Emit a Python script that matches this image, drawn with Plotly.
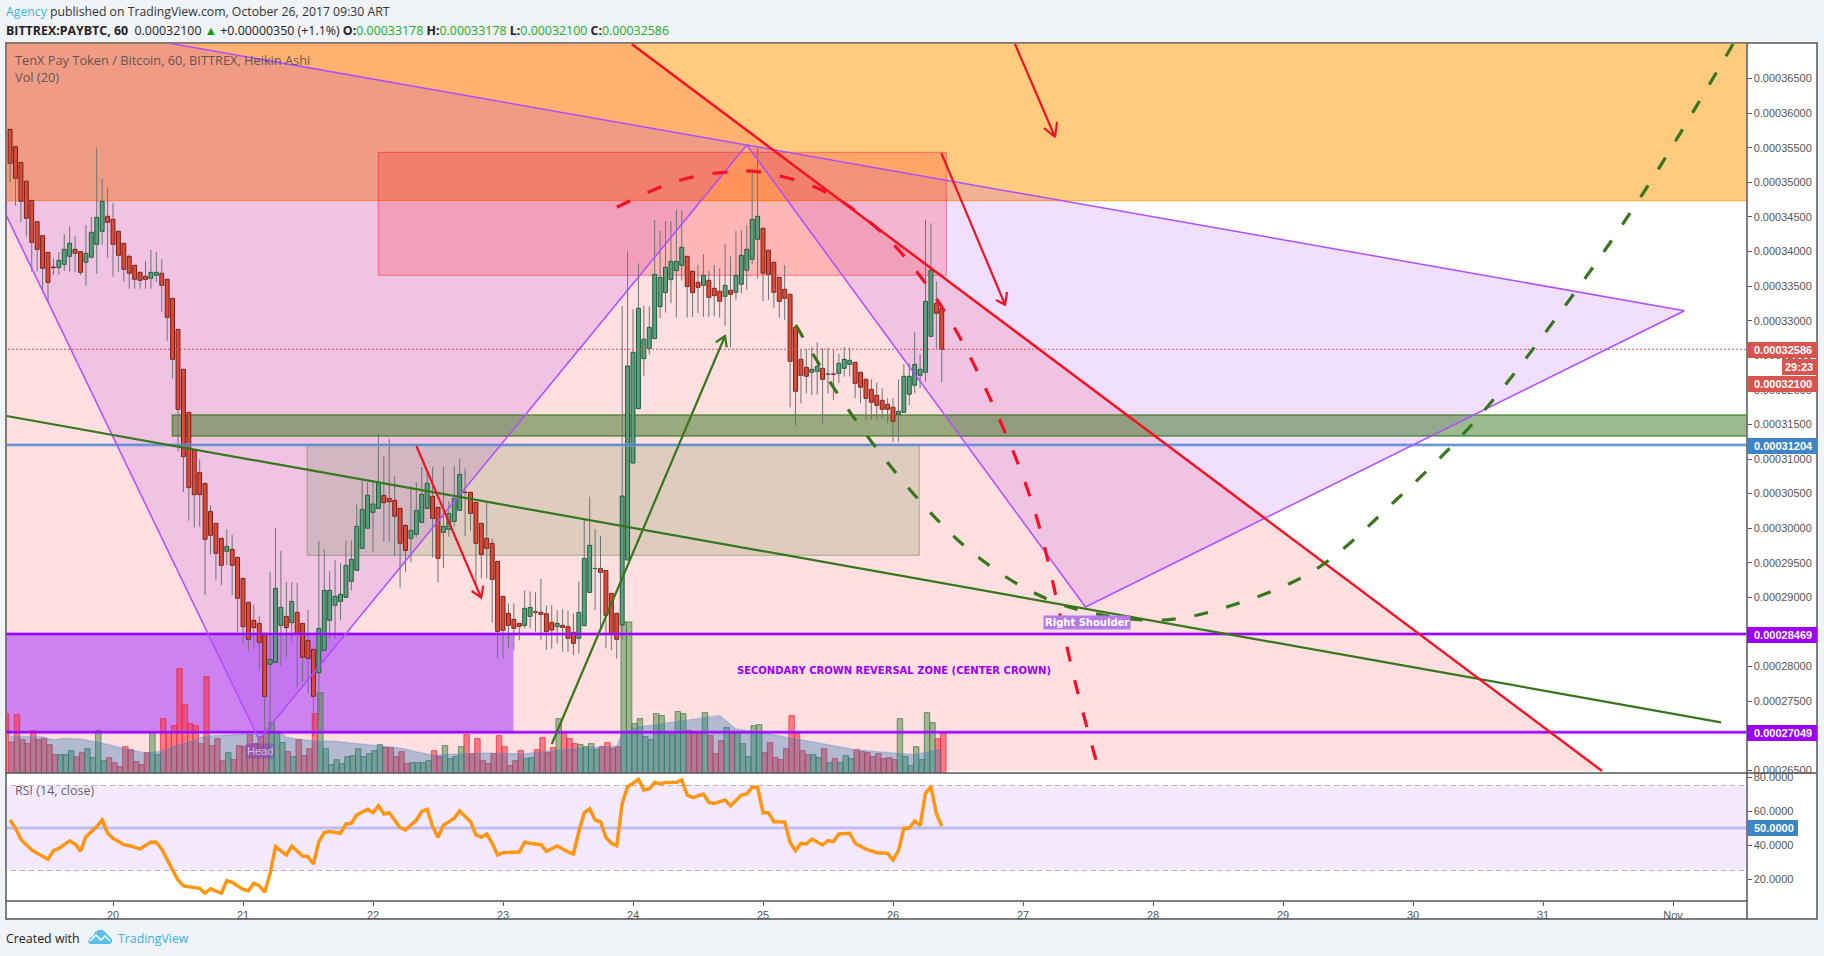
import plotly.graph_objects as go

# ---------- prices in satoshi (1e-8 BTC) ----------
open_ = [35766,35516,35289,35015,34740,34431,34229,33988,33776,33766,33815,33930,34032,33998,33844,33916,34104,34292,34509,34465,
34292,34118,33930,33800,33699,33641,33612,33656,33685,33598,33323,32875,32297,31675,31130,30807,30648,30243,30070,29853,
29665,29694,29578,29275,28928,28668,28624,28480,28032,28061,28595,28725,28634,28783,28624,28378,28248,27911,28234,28668,
28885,28942,29000,29231,29391,29709,30000,30229,30287,30474,30431,30402,30287,30041,29853,29911,30084,30287,30460,30301,
29940,29983,30099,30258,30523,30518,30373,30070,29853,29781,29520,29014,28768,28682,28624,28595,28725,28792,28783,28764,
28639,28576,28595,28576,28494,28407,28591,29072,29415,29415,29386,29058,28769,28600,29540,30942,31728,32451,32596,32740,
33203,33405,33593,33723,33800,33931,33714,33555,33511,33584,33468,33425,33352,33439,33410,33526,33728,33887,34176,34335,
34017,33844,33627,33453,33381,32904,32442,32326,32254,32268,32311,32225,32230,32239,32311,32369,32398,32254,32152,32008,
31921,31849,31791,31748,31646,31675,31936,32066,32210,32254,32774,33251,33179]
high = [35766,35516,35289,35015,34740,34431,34229,33988,33901,33993,34253,34354,34224,33998,34383,34499,35506,35058,34928,34697,
34306,34118,33959,33800,33699,33863,34022,33993,33887,33598,33323,32875,32297,31675,31130,30995,30648,30330,30070,29853,
29983,29901,29578,29275,28928,28899,28725,28480,29362,30000,29670,29222,29222,29207,28624,28817,28248,29815,29694,29376,
29535,29492,29815,29824,30345,30687,30663,30696,31356,31043,31289,30754,30287,30041,30609,30667,30884,30793,30884,30301,
30884,30388,30899,31000,30865,30518,30373,30070,30388,29853,29520,29014,28913,28913,28624,29101,29087,29072,29265,28885,
28889,28817,28827,28807,28769,29231,30137,30455,29988,29887,29386,29058,28769,33212,34003,33164,33829,33212,33208,34456,
34297,34441,34437,34600,34600,33931,33714,33805,33959,33719,33805,33757,34109,33931,34297,34311,34384,35188,35497,34335,
34017,33844,33627,33805,33381,32904,32586,32586,32620,32687,32600,32615,32576,32519,32620,32615,32398,32254,32152,32152,
32104,32022,31878,31878,32152,32369,32384,32832,32514,34456,34408,33569,33179]
low = [35010,34663,34422,34215,33709,33709,33405,33265,33660,33660,33718,33709,33709,33660,33506,33901,33680,34094,33911,33636,
33709,33564,33463,33463,33463,33463,33463,33564,33130,32711,32162,31106,30523,30109,30007,30022,29034,29617,29251,29179,
29468,29034,28504,28330,28229,28272,27950,27010,27082,28061,28012,28113,28345,27694,27781,27612,26996,27227,28234,28407,
28393,28668,28998,29097,29391,29709,30000,29646,30287,29805,29805,29607,29140,29371,29506,29867,30084,30287,29578,29217,
29419,29877,30021,30258,29882,29964,29188,29274,29274,28634,28118,28118,28263,28238,28378,28552,28552,28504,28383,28239,
28253,28335,28215,28215,28166,28191,28591,29072,28817,28552,28263,28239,28118,28384,29540,30942,31728,32205,32509,32740,
33039,33116,33251,33044,33579,33044,33054,33111,33058,33058,33068,33044,32928,32615,33304,33396,33444,33815,33613,33285,
33299,33179,33044,33010,31748,31473,31805,31950,31926,31936,31512,31950,31854,32095,32191,32191,31878,31805,31555,31565,
31569,31584,31512,31251,31251,31675,31781,31950,32022,32123,32770,32600,32109]
close = [35275,35058,34725,34480,34133,34031,33757,33554,33766,33873,34032,34118,33974,33699,33974,34277,34494,34725,34422,34104,
33945,33742,33685,33598,33583,33598,33699,33699,33511,33048,32441,31718,31034,30586,30484,30484,29839,29896,29636,29463,
29737,29463,28986,28576,28393,28562,28350,27569,28104,29130,28856,28562,28942,28465,28133,28118,27569,28552,29101,29101,
29015,29044,29463,29550,30027,30272,30475,30349,30662,30368,30383,30171,29781,29679,29969,30258,30489,30648,30142,29564,
30026,30214,30431,30778,30513,30214,29781,29621,29708,29260,28508,28523,28595,28552,28581,28841,28855,28783,28754,28504,
28528,28624,28566,28407,28335,28783,29564,29752,29419,29362,28740,28480,28393,30465,32345,32543,33179,32731,32904,33670,
33627,33772,33858,33858,34061,33492,33405,33482,33656,33338,33362,33280,33511,33381,33656,33945,34032,34465,34509,33685,
33670,33410,33280,33323,32413,31979,32210,32196,32297,32340,32152,32230,32225,32384,32441,32427,32094,32037,31878,31820,
31776,31719,31719,31545,31690,32196,32196,32369,32297,33280,33728,33107,32586]

# ---------- volume (arbitrary units); first bar sits one hour before the first candle ----------
volume = [178,93,175,100,88,127,100,103,85,55,55,55,67,49,61,73,46,127,37,46,31,19,79,70,34,25,61,121,55,163,
121,142,313,205,148,142,88,289,82,103,37,61,40,82,79,115,88,109,121,151,124,91,64,49,100,52,73,178,241,73,
25,40,28,49,52,73,49,58,67,85,76,76,49,64,28,31,31,31,37,67,49,82,43,49,79,115,58,103,
37,28,58,112,79,22,37,67,43,46,70,106,61,76,163,118,103,88,85,79,88,70,79,91,73,79,453,453,148,163,109,100,
178,172,124,115,184,178,127,124,118,181,112,58,97,136,121,121,88,49,142,145,61,91,46,40,73,172,118,67,55,55,
46,73,31,43,31,52,43,70,64,61,49,58,43,46,40,163,49,22,79,40,181,151,103,121]
volume_side = ("rrrrrrrrrr" "ggg" "rr" "gggg" "rrrrrrrr" "gg" "rrrrrrrrrrrr" "g" "rrrrrrr" "ggg" "r" "g" "rrrr" "gggggggggggg"
               "rrrrr" "gggg" "rr" "gggg" "rrr"
               "rrrrrrrr" "gg" "rrrr" "g" "rrr" "gggg" "rrrr" "gggggggggggg" "rrr" "g" "rrr" "g" "r" "ggggg" "rrrrrrrrr"
               "gg" "r" "g" "r" "ggg" "rrrrrrrr" "ggggggg" "rr")
ma_bar = [0,6,8,10,13,17,20,23,25,28,31,34,36,41,46,50,51,53,56,60,66,72,76,78,87,95,99,105,112,113,116,122,127,131,134,139,145,151,156,163,167,172]
ma_vol = [110,108,100,104,102,90,77,67,60,65,85,98,110,115,120,122,107,102,97,95,85,75,60,53,60,58,65,75,80,120,138,152,163,172,132,120,103,85,70,60,55,73]

# ---------- RSI ----------
rsi_bar = [0,1,2,4,5,7,8,9,11,12,13,14,16,17,18,19,21,22,24,26,27,28,30,31,32,35,36,37,39,40,41,43,44,45,46,47,48,49,51,52,54,55,56,57,58,59,61,62,63,64,66,67,68,69,70,72,73,75,76,77,78,79,80,82,83,85,86,87,88,89,90,91,94,95,96,98,99,101,103,104,105,106,107,108,109,110,111,112,113,114,115,116,117,118,119,120,121,123,124,125,126,128,129,130,132,133,135,136,137,138,139,140,141,143,144,145,146,147,148,150,151,152,153,155,156,158,160,162,163,164,165,166,167,168,169,170,171,172]
rsi_val = [54.7,49.8,43.3,37.1,35.1,31.6,36.7,38.0,42.4,40.6,36.3,44.9,50.8,54.7,46.9,43.9,40.2,39.6,37.7,41.8,41.6,37.5,25.3,19.4,15.9,14.5,11.6,14.3,11.6,19.0,18.0,13.9,13.1,17.5,16.1,12.2,23.3,39.0,34.1,39.4,33.5,33.1,28.8,42.0,47.3,47.9,46.9,52.4,52.8,57.7,61.0,59.0,63.1,58.2,59.0,50.2,48.8,54.7,59.8,61.0,50.8,44.5,51.6,55.7,60.0,53.7,45.9,44.5,46.5,41.0,34.1,35.5,35.9,41.6,41.0,40.2,36.3,39.4,35.9,34.7,47.9,59.0,61.2,54.7,53.7,44.5,41.0,39.6,64.5,74.3,76.3,78.6,72.4,73.0,76.9,75.9,76.7,76.9,78.2,69.4,67.9,70.0,65.1,64.5,66.5,63.1,69.4,70.0,73.9,73.9,59.0,59.0,53.7,53.5,41.4,36.7,41.0,40.6,43.5,40.0,42.6,42.0,46.5,46.9,41.0,37.5,35.5,35.1,31.2,36.7,49.8,49.8,54.1,51.4,70.4,74.3,58.6,51.2]

# ---------- drawings: (day of October, satoshi) ----------
XMIN, XMAX = 19.177, 32.565
PMIN, PMAX = 26461, 37007
orange_zone = [34734, 37100]
red_zone_days, red_zone_prices = [22.04, 26.41], [33656, 35434]
beige_zone_days, beige_zone_prices = [21.494, 26.202], [29608, 31204]
green_zone_day, green_zone_prices = 20.457, [31333, 31636]
purple_zone_day, purple_zone_prices = 23.08, [27049, 28469]
level_blue, level_pur_1, level_pur_2, level_last = 31204, 28469, 27049, 32586

red_line_days, red_line_prices = [23.99, 31.454], [37000, 26490]
pattern_days = [18.364, 21.123, 24.875, 27.48, 32.087]
pattern_prices = [37697, 26945, 35540, 28861, 33144]
green_line_days, green_line_prices = [19.182, 32.369], [31622, 27194]

green_arrow_days = [23.375, 24.708, 24.636, 24.708, 24.721]
green_arrow_prices = [26880, 32778, 32687, 32778, 32615]
red_arrow1_days = [22.334, 22.832, 22.759, 22.832, 22.848]
red_arrow1_prices = [31188, 28995, 29092, 28995, 29169]
red_arrow2_days = [26.938, 27.246, 27.162, 27.246, 27.262]
red_arrow2_prices = [37000, 35655, 35785, 35655, 35872]
red_arrow3_days = [26.372, 26.862, 26.792, 26.862, 26.877]
red_arrow3_prices = [35420, 33230, 33299, 33230, 33415]

red_curve_days = [23.875,24.208,24.449,24.70,24.952,25.438,25.864,26.202,26.482,26.815,27.092,27.408,27.585]
red_curve_prices = [34639,34928,35073,35145,35154,34899,34359,33660,32865,31589,30234,27719,26490]
green_curve_days = [25.252,25.575,25.867,26.2,26.558,27.005,27.454,28.077,28.615,29.243,29.869,30.492,31.123,31.746,32.462]
green_curve_prices = [32937,31940,31169,30407,29731,29143,28807,28673,28890,29395,30407,31581,33096,34773,37000]

day_ticks = [20,21,22,23,24,25,26,27,28,29,30,31,32]
day_labels = ["20","21","22","23","24","25","26","27","28","29","30","31","Nov"]
price_ticks = [26500,27000,27500,28000,28500,29000,29500,30000,30500,31000,31500,32000,32500,33000,33500,34000,34500,35000,35500,36000,36500]
rsi_ticks = [20,40,60,80]

# ---------- helpers ----------
W, H = 1824, 956
sat = lambda v: v * 1e-8
px = lambda X: X / W
py = lambda Y: 1 - Y / H
hours = lambda i: 19 + 5 / 24 + i / 24
FONT = "Liberation Sans"
TXT = "Open Sans"
GREY = "#555555"

fig = go.Figure()
shapes, notes = [], []

def rect(x0, x1, p0, p1, fill, line="rgba(0,0,0,0)", lw=1):
    shapes.append(dict(type="rect", xref="x", yref="y3", x0=x0, x1=x1, y0=sat(p0), y1=sat(p1),
                       fillcolor=fill, line=dict(color=line, width=lw), layer="below"))

def poly(days, prices, fill):
    d = "M " + " L ".join(f"{a},{sat(b):.10f}" for a, b in zip(days, prices)) + " Z"
    shapes.append(dict(type="path", xref="x", yref="y3", path=d, fillcolor=fill, line=dict(width=0), layer="below"))

def line(days, prices, color, width, dash="solid", shape="linear"):
    fig.add_trace(go.Scatter(x=days, y=[sat(v) for v in prices], yaxis="y3", mode="lines", hoverinfo="skip",
                             line=dict(color=color, width=width, dash=dash, shape=shape, smoothing=1)))

def text(X, Y, s, size=12, color=GREY, anchor="left", family=FONT, **kw):
    notes.append(dict(xref="paper", yref="paper", x=px(X), y=py(Y), text=s, showarrow=False, xanchor=anchor,
                      yanchor="middle", font=dict(family=family, size=size, color=color), **kw))

def tag(Y0, Y1, s, fill, X1=1817, X0=1747, tx=1752):
    shapes.append(dict(type="rect", xref="paper", yref="paper", x0=px(X0), x1=px(X1), y0=py(Y0), y1=py(Y1),
                       fillcolor=fill, line=dict(width=0), layer="above"))
    text(tx, (Y0 + Y1) / 2, f"<b>{s}</b>", size=11, color="#ffffff")

# frame of chart
shapes.append(dict(type="rect", xref="paper", yref="paper", x0=px(6), x1=px(1817), y0=py(43), y1=py(919),
                   fillcolor="#ffffff", line=dict(color=GREY, width=1.5), layer="below"))

# zones, back to front
rect(XMIN - 1, XMAX + 1, orange_zone[0], orange_zone[1], "rgba(255,152,0,0.5)", "rgba(255,152,0,0.8)", 1)
poly([XMIN - 1, red_line_days[0], red_line_days[1], XMIN - 1], [37100, 37000, 26490, 26490], "rgba(255,0,0,0.125)")
poly(pattern_days[:3], pattern_prices[:3], "rgba(156,39,255,0.15)")
poly(pattern_days[2:], pattern_prices[2:], "rgba(156,39,255,0.15)")
rect(purple_zone_day - 5, purple_zone_day, purple_zone_prices[0], purple_zone_prices[1], "rgba(156,39,255,0.5)")
rect(beige_zone_days[0], beige_zone_days[1], beige_zone_prices[0], beige_zone_prices[1], "rgba(90,130,60,0.2)", "rgba(90,110,60,0.45)", 1)
rect(red_zone_days[0], red_zone_days[1], red_zone_prices[0], red_zone_prices[1], "rgba(255,0,0,0.18)", "rgba(255,0,60,0.45)", 1)
rect(green_zone_day, XMAX + 1, green_zone_prices[0], green_zone_prices[1], "rgba(56,118,29,0.5)", "rgba(56,118,29,0.75)", 1.5)

# volume (base subplot so that it stays under the candles)
for side, fill, edge in (("r", "rgba(255,40,50,0.55)", "rgba(235,40,70,0.75)"), ("g", "rgba(70,140,60,0.5)", "rgba(70,125,85,0.8)")):
    idx = [k for k, s in enumerate(volume_side) if s == side]
    fig.add_trace(go.Bar(x=[hours(k - 1) for k in idx], y=[volume[k] for k in idx], yaxis="y", width=1 / 24, offset=-0.0092,
                         marker=dict(color=fill, line=dict(color=edge, width=1)), hoverinfo="skip"))
fig.add_trace(go.Scatter(x=[hours(i) for i in ma_bar], y=ma_vol, yaxis="y", mode="lines", fill="tozeroy",
                         fillcolor="rgba(37,117,180,0.35)", line=dict(color="rgba(90,140,210,0.35)", width=1.5), hoverinfo="skip"))

# candles: wicks first, bodies as floating bars
wx, wy = [], []
for i, (o, h, l, c) in enumerate(zip(open_, high, low, close)):
    top, bot = max(o, c), min(o, c)
    if h > top:
        wx += [hours(i), hours(i), None]; wy += [sat(h), sat(top), None]
    if l < bot:
        wx += [hours(i), hours(i), None]; wy += [sat(bot), sat(l), None]
fig.add_trace(go.Scatter(x=wx, y=wy, yaxis="y3", mode="lines", line=dict(color="#6d7373", width=1), hoverinfo="skip", connectgaps=False))
for up, fill, edge in ((False, "#d94c39", "#7a1c16"), (True, "#5a9f7b", "#1f5a3c")):
    idx = [i for i in range(len(open_)) if (close[i] >= open_[i]) == up]
    fig.add_trace(go.Bar(x=[hours(i) for i in idx], y=[sat(abs(close[i] - open_[i])) for i in idx],
                         base=[sat(min(open_[i], close[i])) for i in idx], yaxis="y3", width=0.72 / 24,
                         marker=dict(color=fill, line=dict(color=edge, width=1)), hoverinfo="skip"))

# levels
span = [XMIN - 1, XMAX + 1]
line(span, [level_last] * 2, "#d9534f", 1, "2px,2px")
line(span, [level_blue] * 2, "rgba(120,170,225,0.6)", 3.5)
line(span, [level_blue] * 2, "#4a78c8", 1.2)
for lv in (level_pur_1, level_pur_2):
    line(span, [lv] * 2, "rgba(156,39,255,0.4)", 4)
    line(span, [lv] * 2, "#9c00ff", 2)

# pattern + trend lines
line(pattern_days[:3] + [pattern_days[0]], pattern_prices[:3] + [pattern_prices[0]], "#b04dff", 1.5)
line(pattern_days[2:] + [pattern_days[2]], pattern_prices[2:] + [pattern_prices[2]], "#b04dff", 1.5)
line(green_line_days, green_line_prices, "#38761d", 2.2)
line(red_line_days, red_line_prices, "#f01525", 2.5)
line(green_arrow_days, green_arrow_prices, "#38761d", 2.2)
for d, p in ((red_arrow1_days, red_arrow1_prices), (red_arrow2_days, red_arrow2_prices), (red_arrow3_days, red_arrow3_prices)):
    line(d, p, "#f01525", 2.2)
line(red_curve_days, red_curve_prices, "#f5102a", 3.2, "15px,19px", "spline")
line(green_curve_days, green_curve_prices, "#38761d", 3.2, "14px,19px", "spline")

# RSI pane
shapes.append(dict(type="rect", xref="x", yref="y2", x0=XMIN - 1, x1=XMAX + 1, y0=25, y1=75, fillcolor="rgba(156,39,255,0.1)", line=dict(width=0), layer="below"))
for lv in (25, 75):
    shapes.append(dict(type="line", xref="x", yref="y2", x0=XMIN - 1, x1=XMAX + 1, y0=lv, y1=lv, line=dict(color="#b8aec4", width=1, dash="5px,4px"), layer="below"))
shapes.append(dict(type="line", xref="x", yref="y2", x0=XMIN - 1, x1=XMAX + 1, y0=50, y1=50, line=dict(color="rgba(60,90,200,0.3)", width=3), layer="below"))
fig.add_trace(go.Scatter(x=[hours(i) for i in rsi_bar], y=rsi_val, yaxis="y2", mode="lines",
                         line=dict(color="#ff9510", width=3.5), hoverinfo="skip"))

# separators
shapes.append(dict(type="line", xref="paper", yref="paper", x0=px(6), x1=px(1817), y0=py(773), y1=py(773), line=dict(color=GREY, width=1.5), layer="above"))
shapes.append(dict(type="line", xref="paper", yref="paper", x0=px(6), x1=px(1747), y0=py(901), y1=py(901), line=dict(color=GREY, width=1.5), layer="above"))
shapes.append(dict(type="line", xref="paper", yref="paper", x0=px(1747), x1=px(1747), y0=py(43), y1=py(919), line=dict(color=GREY, width=1.5), layer="above"))

# axis tags
tag(342, 358, "0.00032586", "#d9534f")
tag(359, 375, "29:23", "#d9534f", X0=1782, tx=1783)
tag(376, 392, "0.00032100", "#d9534f")
tag(438, 454, "0.00031204", "#3d85c6")
tag(627, 643, "0.00028469", "#9c00ff")
tag(725, 741, "0.00027049", "#9c00ff")
tag(820, 836, "50.0000", "#3d85c6", X1=1798)

# texts
text(4, 12, '<span style="color:#3bb3e4">Agency</span> published on TradingView.com, October 26, 2017 09:30 ART', 12.25, "#333333", family=TXT)
G = "#22ab22"
text(4, 30, f'<b>BITTREX:PAYBTC, 60</b>  0.00032100 <span style="color:#0a9a0a">▲</span> +0.00000350 (+1.1%) '
     f'<b>O:</b><span style="color:{G}">0.00033178</span> <b>H:</b><span style="color:{G}">0.00033178</span> '
     f'<b>L:</b><span style="color:{G}">0.00032100</span> <b>C:</b><span style="color:{G}">0.00032586</span>', 12.4, "#222222", family=TXT)
text(13, 60, "TenX Pay Token / Bitcoin, 60, BITTREX, Heikin Ashi", 12.8, "rgba(70,70,70,0.85)", family=TXT)
text(13, 77, "Vol (20)", 12.8, "rgba(70,70,70,0.85)", family=TXT)
text(13, 790, "RSI (14, close)", 12.5, "rgba(70,70,70,0.85)", family=TXT)
text(894, 670, "<b>SECONDARY CROWN REVERSAL ZONE (CENTER CROWN)</b>", 10, "#9900ff", "center", "DejaVu Sans")
text(1087, 622, "<b>Right Shoulder</b>", 10, "#ffffff", "center", "DejaVu Sans", bgcolor="#b77be8", borderpad=1)
text(260, 751, "Head", 11, "rgba(220,200,240,0.9)", "center", FONT, bgcolor="rgba(120,60,200,0.45)", borderpad=1)
text(4, 938, "Created with", 12.4, "#222222", family=TXT)
text(116, 938, "TradingView", 12.3, "#3bb3e4", family=TXT)
def pxpath(pts, close=True):
    return "M " + " L ".join(f"{px(a)} {py(b)}" for a, b in pts) + (" Z" if close else "")
shapes.append(dict(type="path", xref="paper", yref="paper", layer="above", fillcolor="#5bc0e8", line=dict(width=0),
                   path=pxpath([(88,942),(90,938),(93,936),(95,932),(99,930),(103,930),(106,933),(109,936),(112,939),(112,942),(110,944),(90,944)])))
shapes.append(dict(type="path", xref="paper", yref="paper", layer="above", line=dict(color="#ffffff", width=1.5),
                   path=pxpath([(90,941),(96,935),(101,940),(105,936),(110,941)], close=False)))

tickfont = dict(family=FONT, size=11, color=GREY)
fig.update_layout(
    width=W, height=H, margin=dict(l=0, r=0, t=0, b=0, pad=0, autoexpand=False), autosize=False,
    paper_bgcolor="#f0f3f7", plot_bgcolor="rgba(0,0,0,0)", showlegend=False, barmode="overlay",
    shapes=shapes, annotations=notes,
    xaxis=dict(domain=[px(6.5), px(1746.5)], range=[XMIN + 0.0038, XMAX], anchor="y2", tickmode="array", tickvals=day_ticks, ticktext=day_labels,
               ticks="outside", ticklen=4, tickcolor=GREY, tickfont=tickfont, showgrid=False, zeroline=False, showline=False),
    yaxis=dict(domain=[py(773), py(43.5)], range=[0, 2187], visible=False, fixedrange=True),
    yaxis2=dict(domain=[py(901), py(773.5)], range=[7.06, 82.06], anchor="x", side="right", tickmode="array", tickvals=rsi_ticks,
                ticktext=[f"{v:.4f}" for v in rsi_ticks], ticks="outside", ticklen=4, tickcolor=GREY, tickfont=tickfont, showgrid=False, zeroline=False),
    yaxis3=dict(domain=[py(773), py(43.5)], overlaying="y", anchor="x", side="right", range=[sat(PMIN), sat(PMAX)], tickmode="array",
                tickvals=[sat(v) for v in price_ticks], ticktext=[f"{sat(v):.8f}" for v in price_ticks], ticks="outside", ticklen=4,
                tickcolor=GREY, tickfont=tickfont, showgrid=False, zeroline=False),
)

fig.write_html("out.html", config=dict(displayModeBar=False),
               post_script="document.documentElement.style.overflow='hidden';document.body.style.margin='0';document.body.style.height='956px';document.body.style.overflow='hidden';document.body.style.background='#f0f3f7';")
